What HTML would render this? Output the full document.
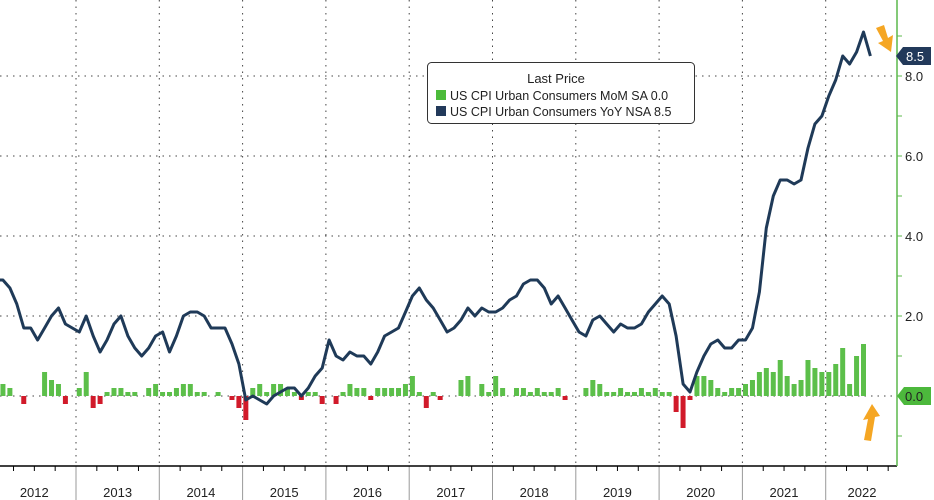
<!DOCTYPE html><html><head><style>body{margin:0;background:#fff}svg{display:block;font-family:"Liberation Sans",sans-serif}</style></head><body>
<svg id="s" width="934" height="500" xmlns="http://www.w3.org/2000/svg"></svg>
<script>
const S=document.getElementById('s');let h='';
const yoy=[2.9,2.9,2.7,2.3,1.7,1.7,1.4,1.7,2.0,2.2,1.8,1.7,1.6,2.0,1.5,1.1,1.4,1.8,2.0,1.5,1.2,1.0,1.2,1.5,1.6,1.1,1.5,2.0,2.1,2.1,2.0,1.7,1.7,1.7,1.3,0.8,-0.1,0.0,-0.1,-0.2,0.0,0.1,0.2,0.2,0.0,0.2,0.5,0.7,1.4,1.0,0.9,1.1,1.0,1.0,0.8,1.1,1.5,1.6,1.7,2.1,2.5,2.7,2.4,2.2,1.9,1.6,1.7,1.9,2.2,2.0,2.2,2.1,2.1,2.2,2.4,2.5,2.8,2.9,2.9,2.7,2.3,2.5,2.2,1.9,1.6,1.5,1.9,2.0,1.8,1.6,1.8,1.7,1.7,1.8,2.1,2.3,2.5,2.3,1.5,0.3,0.1,0.6,1.0,1.3,1.4,1.2,1.2,1.4,1.4,1.7,2.6,4.2,5.0,5.4,5.4,5.3,5.4,6.2,6.8,7.0,7.5,7.9,8.5,8.3,8.6,9.1,8.5];
const mom=[0.3,0.3,0.2,0.0,-0.2,0.0,0.0,0.6,0.4,0.3,-0.2,0.0,0.2,0.6,-0.3,-0.2,0.1,0.2,0.2,0.1,0.1,0.0,0.2,0.3,0.1,0.1,0.2,0.3,0.3,0.1,0.1,0.0,0.1,0.0,-0.1,-0.3,-0.6,0.2,0.3,0.1,0.3,0.3,0.2,0.1,-0.1,0.1,0.1,-0.2,0.0,-0.2,0.1,0.3,0.2,0.2,-0.1,0.2,0.2,0.2,0.2,0.3,0.5,0.1,-0.3,0.1,-0.1,0.0,0.0,0.4,0.5,0.0,0.3,0.1,0.5,0.2,0.0,0.2,0.2,0.1,0.2,0.1,0.1,0.2,-0.1,0.0,0.0,0.2,0.4,0.3,0.1,0.1,0.2,0.1,0.1,0.2,0.1,0.2,0.1,0.1,-0.4,-0.8,-0.1,0.5,0.5,0.4,0.2,0.1,0.2,0.2,0.3,0.4,0.6,0.7,0.6,0.9,0.5,0.3,0.4,0.9,0.7,0.6,0.6,0.8,1.2,0.3,1.0,1.3,0.0];
const X=m=>-4+6.94*m, Y=v=>396-40*v;
[8,6,4,2,0].forEach(v=>h+=`<line x1="0" x2="897" y1="${Y(v)}" y2="${Y(v)}" stroke="#444" stroke-dasharray="1.5,5"/>`);
for(let k=1;k<=10;k++){const x=-7.3+83.3*k;h+=`<line x1="${x}" x2="${x}" y1="0" y2="466" stroke="#444" stroke-dasharray="1.5,5"/>`;
h+=`<line x1="${x}" x2="${x}" y1="466" y2="500" stroke="#999"/>`;}
mom.forEach((v,i)=>{if(v==0)return;const x=X(i)-2.5;const c=v>0?'#5cbf4a':'#d11a2a';h+=`<rect x="${x}" y="${v>0?Y(v):396}" width="5" height="${Math.abs(v)*40}" fill="${c}"/>`;});
h+=`<polyline fill="none" stroke="#1f3a58" stroke-width="3" stroke-linejoin="round" points="${yoy.map((v,i)=>X(i).toFixed(1)+','+Y(v).toFixed(1)).join(' ')}"/>`;
h+=`<line x1="0" x2="897" y1="466" y2="466" stroke="#000" stroke-width="1.5"/>`;
for(let q=0;q<44;q++){const x=-7.3+83.3*q/4;if(q%4)h+=`<line x1="${x}" x2="${x}" y1="466" y2="471" stroke="#000"/>`;}
for(let k=0;k<11;k++){const x=-7.3+83.3*k+41.6;h+=`<text x="${Math.min(x,862)}" y="497" font-size="13" text-anchor="middle" fill="#222">${2012+k}</text>`;}
h+=`<line x1="897" x2="897" y1="0" y2="466" stroke="#5cb84c" stroke-width="1.5"/>`;
for(let v=-1;v<=9;v++){h+=`<line x1="897" x2="902" y1="${Y(v)}" y2="${Y(v)}" stroke="#5cb84c"/>`;}
[8,6,4,2].forEach(v=>h+=`<text x="905" y="${Y(v)+5}" font-size="13" fill="#222">${v}.0</text>`);
h+=`<polygon points="896,56 903,47 931,47 931,65 903,65" fill="#22395a"/><text x="906" y="61" font-size="13" fill="#fff">8.5</text>`;
h+=`<polygon points="897,396 904,387 931,387 931,405 904,405" fill="#4cb83c"/><text x="905" y="401" font-size="13" fill="#222">0.0</text>`;
h+=`<g fill="#f5a623"><polygon points="876,28 884,25 888,38 893,35 891,52 878,43 883,41"/><polygon points="864,440 868,419 863,420 872,404 880,416 875,417 871,441"/></g>`;
h+=`<rect x="427.5" y="62.5" width="267" height="61" rx="4" fill="#fff" stroke="#333"/><text x="556" y="83" font-size="13" text-anchor="middle" fill="#222">Last Price</text>
<rect x="436" y="90" width="10" height="10" fill="#4cbb3a"/><text x="450" y="100" font-size="12.5" fill="#222">US CPI Urban Consumers MoM SA  0.0</text>
<rect x="436" y="106" width="10" height="10" fill="#22395a"/><text x="450" y="116" font-size="12.5" fill="#222">US CPI Urban Consumers YoY NSA 8.5</text>`;
S.innerHTML=h;
</script></body></html>
